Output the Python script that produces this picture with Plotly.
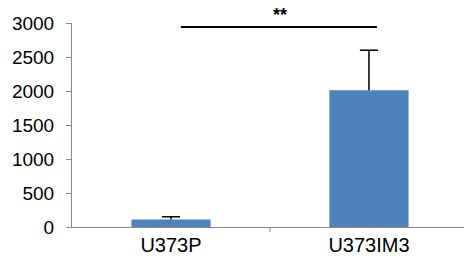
import plotly.graph_objects as go

categories = ["U373P", "U373IM3"]
values = [110, 2010]
errors = [40, 590]
y_ticks = [0, 500, 1000, 1500, 2000, 2500, 3000]
sig_label = "**"
sig_level = 2940

x_pos = list(range(len(categories)))
tops = [v + e for v, e in zip(values, errors)]

fig = go.Figure()
fig.add_trace(go.Bar(
    x=x_pos, y=values, width=0.4,
    marker=dict(color="#4F81BD", line=dict(width=0)),
    error_y=dict(type="data", array=errors, arrayminus=[0] * len(errors), symmetric=False,
                 color="black", thickness=1.5, width=0),
))
# error bar caps (top only)
fig.add_trace(go.Scatter(
    x=x_pos, y=tops, mode="markers",
    marker=dict(symbol="line-ew-open", size=13, color="black",
                line=dict(color="black", width=1.5)),
    hoverinfo="skip",
))

# significance bracket
fig.add_shape(type="line", xref="x", yref="y", x0=0.05, x1=1.04,
              y0=sig_level, y1=sig_level, line=dict(color="black", width=2))
fig.add_annotation(x=0.55, xref="x", y=1.0, yref="paper", yanchor="bottom", yshift=-4,
                   text="<b>" + sig_label + "</b>", showarrow=False,
                   font=dict(size=18, color="black"))

fig.update_layout(
    width=464, height=263,
    margin=dict(l=72, r=0, t=23, b=36),
    paper_bgcolor="white", plot_bgcolor="white",
    showlegend=False,
    font=dict(family="Liberation Sans, Arial, sans-serif", size=18, color="black"),
    xaxis=dict(range=[-0.5, 1.48], tickvals=x_pos, ticktext=categories,
               showgrid=False, zeroline=False, showline=True, linecolor="#898989",
               linewidth=1, ticks="", tickfont=dict(size=20), automargin=False),
    yaxis=dict(range=[0, 3000], tickvals=y_ticks, showgrid=False, zeroline=False,
               showline=True, linecolor="#898989", linewidth=1,
               ticks="outside", ticklen=5, tickcolor="#898989",
               tickfont=dict(size=19), automargin=False, ticklabelstandoff=8),
)
# x-axis boundary tick between categories
fig.add_shape(type="line", xref="x", yref="paper", x0=0.5, x1=0.5, y0=0, y1=-0.025,
              line=dict(color="#898989", width=1))

fig.write_html("out.html", config={"displayModeBar": False},
               post_script="document.body.style.margin='0';")
